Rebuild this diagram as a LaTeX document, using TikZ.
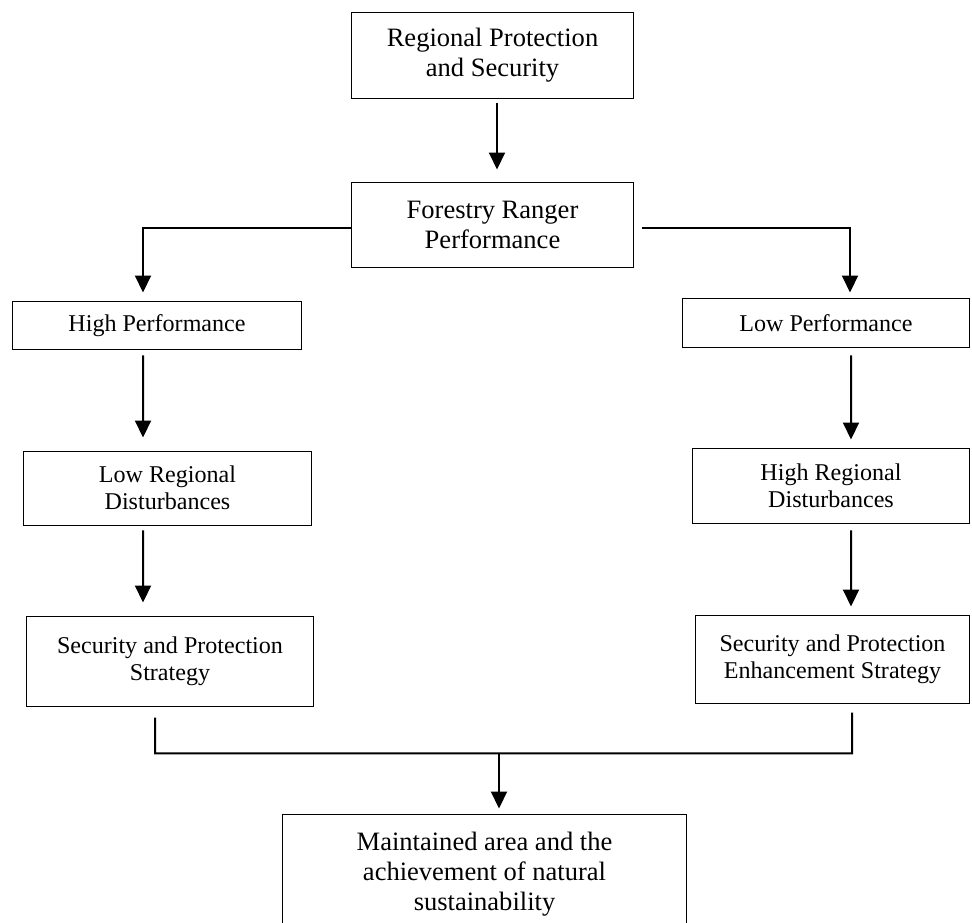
\documentclass[tikz,border=0pt]{standalone}
\usepackage{fontspec}
\setmainfont{Liberation Serif}
\usepackage{tikz}
\usetikzlibrary{arrows.meta}

\newcommand{\bigtxt}{\fontsize{15.1}{17.1}\selectfont}
\newcommand{\smalltxt}{\fontsize{13.7}{15.1}\selectfont}

\begin{document}
\begin{tikzpicture}[x=0.02cm, y=-0.02cm,
  box/.style={draw, line width=0.02cm, inner sep=0pt, align=center, font=\smalltxt},
  bigbox/.style={box, font=\bigtxt},
  arr/.style={line width=0.04cm, -{Triangle[length=0.34cm,width=0.32cm]}},
  link/.style={line width=0.04cm}]
\useasboundingbox (0,0) rectangle (972,922);
% top of the chart
\node[bigbox, minimum width=5.66cm, minimum height=1.74cm] (regional) at (492.5,55.5) {Regional Protection\\and Security};
\node[bigbox, minimum width=5.66cm, minimum height=1.72cm] (ranger) at (492.5,225) {Forestry Ranger\\Performance};
% two branches
\node[box, minimum width=5.8cm, minimum height=0.98cm] (highperf) at (157,325.5) {High Performance};
\node[box, minimum width=5.76cm, minimum height=1cm] (lowperf) at (826,323) {Low Performance};
\node[box, minimum width=5.78cm, minimum height=1.48cm] (lowdist) at (167.5,488) {Low Regional\\Disturbances};
\node[box, minimum width=5.56cm, minimum height=1.5cm] (highdist) at (831,485.5) {High Regional\\Disturbances};
\node[box, minimum width=5.76cm, minimum height=1.8cm] (secstrat) at (170,661) {Security and Protection\\Strategy};
\node[box, minimum width=5.5cm, minimum height=1.76cm] (enhstrat) at (832.5,659) {Security and Protection\\Enhancement Strategy};
% result
\node[bigbox, minimum width=8.1cm, minimum height=2.42cm] (goal) at (484.5,874.5) {Maintained area and the\\achievement of natural\\sustainability};

\draw[arr] ([xshift=0.09cm,yshift=-0.08cm]regional.south) -- ([xshift=0.09cm,yshift=0.24cm]ranger.north);
\draw[arr] ([yshift=-0.06cm]ranger.west) -| ([xshift=-0.28cm,yshift=0.16cm]highperf.north);
\draw[arr] ([xshift=0.16cm,yshift=-0.06cm]ranger.east) -| ([xshift=0.48cm,yshift=0.1cm]lowperf.north);
% left column
\draw[arr] ([xshift=-0.28cm,yshift=-0.1cm]highperf.south) -- ([xshift=-0.49cm,yshift=0.26cm]lowdist.north);
\draw[arr] ([xshift=-0.49cm,yshift=-0.1cm]lowdist.south) -- ([xshift=-0.54cm,yshift=0.26cm]secstrat.north);
% right column
\draw[arr] ([xshift=0.5cm,yshift=-0.14cm]lowperf.south) -- ([xshift=0.4cm,yshift=0.16cm]highdist.north);
\draw[arr] ([xshift=0.4cm,yshift=-0.14cm]highdist.south) -- ([xshift=0.37cm,yshift=0.16cm]enhstrat.north);
% join
\coordinate (joinL) at ([xshift=-0.3cm,yshift=-0.94cm]secstrat.south);
\coordinate (joinR) at ([xshift=0.39cm,yshift=-1cm]enhstrat.south);
\coordinate (joinM) at ([xshift=0.29cm,yshift=1.22cm]goal.north);
\draw[link] ([xshift=-0.3cm,yshift=-0.22cm]secstrat.south) -- (joinL) -- (joinR) -- ([xshift=0.39cm,yshift=-0.18cm]enhstrat.south);
\draw[arr] (joinM) -- ([xshift=0.29cm,yshift=0.1cm]goal.north);
\end{tikzpicture}
\end{document}
